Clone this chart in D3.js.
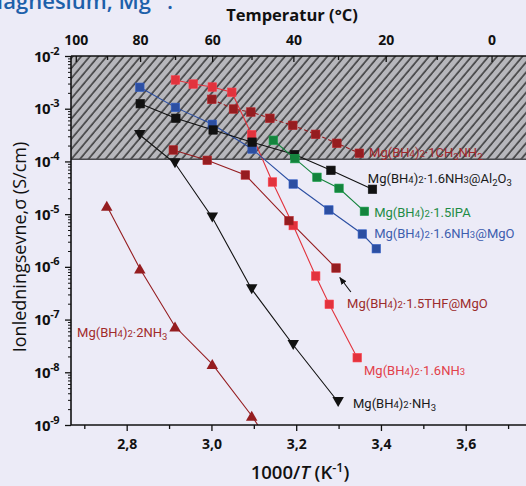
<!DOCTYPE html>
<html><head><meta charset="utf-8">
<script src="https://cdn.jsdelivr.net/npm/d3@7"></script>
<style>
html,body{margin:0;padding:0;background:#ecebf7;overflow:hidden}
svg{display:block}
</style></head>
<body>
<svg id="chart" width="526" height="486"></svg>
<script>
// ---------------- data (1000/T in K^-1, conductivity in S/cm) ----------------
const invT_CH3NH2 = [3.001, 3.052, 3.093, 3.138, 3.192, 3.246, 3.296, 3.349];
const sigma_CH3NH2 = [1.51e-3, 9.87e-4, 8.66e-4, 6.58e-4, 4.84e-4, 3.27e-4, 2.21e-4, 1.43e-4];

const invT_16NH3 = [2.915, 2.957, 3.002, 3.048, 3.095, 3.144, 3.193, 3.246, 3.278, 3.344];
const sigma_16NH3 = [3.51e-3, 2.94e-3, 2.58e-3, 2.05e-3, 3.21e-4, 4.07e-5, 6.08e-6, 6.70e-7, 1.95e-7, 1.89e-8];

const invT_THF = [2.910, 2.990, 3.080, 3.183, 3.294];
const sigma_THF = [1.65e-4, 1.05e-4, 5.53e-5, 7.50e-6, 9.50e-7];

const invT_MgO = [2.831, 2.915, 3.002, 3.096, 3.193, 3.277, 3.356, 3.389];
const sigma_MgO = [2.55e-3, 1.06e-3, 5.06e-4, 1.72e-4, 3.73e-5, 1.20e-5, 4.20e-6, 2.21e-6];

const invT_Al2O3 = [2.832, 2.916, 3.004, 3.096, 3.196, 3.282, 3.380];
const sigma_Al2O3 = [1.245e-3, 6.58e-4, 3.95e-4, 2.32e-4, 1.35e-4, 6.78e-5, 2.96e-5];

const invT_IPA = [3.146, 3.197, 3.249, 3.301, 3.361];
const sigma_IPA = [2.52e-4, 1.13e-4, 5.00e-5, 3.09e-5, 1.13e-5];

const invT_NH3 = [2.831, 2.914, 3.002, 3.095, 3.193, 3.299];
const sigma_NH3 = [3.17e-4, 9.21e-5, 8.63e-6, 3.77e-7, 3.29e-8, 2.73e-9];

// last point lies below the visible axis (only its connecting line shows)
const invT_2NH3 = [2.753, 2.831, 2.914, 3.002, 3.095, 3.190];
const sigma_2NH3 = [1.44e-5, 9.30e-7, 7.38e-8, 1.43e-8, 1.50e-9, 1.04e-10];

// series labels (markup: {x}=small, _x=subscript) and label anchors in data units
const seriesLabels = [
  "Mg(BH{4}){2}·1CH_3NH_2", "Mg(BH{4}){2}·1.6NH{3}", "Mg(BH{4}){2}·1.5THF@MgO",
  "Mg(BH{4}){2}·1.6NH{3}@MgO", "Mg(BH{4}){2}·1.6NH{3}@Al_2O_3", "Mg(BH{4}){2}·1.5IPA",
  "Mg(BH{4}){2}·NH_3", "Mg(BH{4}){2}·2NH_3"
];
const labelInvT = [3.372, 3.360, 3.320, 3.384, 3.369, 3.384, 3.334, 2.683];
const labelLogSigma = [-3.821, -7.957, -6.686, -5.358, -4.315, -4.969, -8.583, -7.236];

// axis ticks
const xTickValues = [2.8, 3.0, 3.2, 3.4, 3.6];
const xMinorTicks = [2.7, 2.9, 3.1, 3.3, 3.5, 3.7];
const tempLabels = [100, 80, 60, 40, 20, 0];
const tempMinor = [90, 70, 50, 30, 10];
const yDecades = [-2, -3, -4, -5, -6, -7, -8, -9];
const hatchThreshold = 1.1e-4;

// arrow for THF@MgO label (data units)
const arrowFrom = [3.329, -6.477];
const arrowTo = [3.303, -6.202];

// ---------------- drawing ----------------
const svg = d3.select("#chart");
const pL = 71, pR = 530, pT = 56, pB = 425;

const x = d3.scaleLinear().domain([2.6686, 3.7517]).range([pL, pR]);
const y = d3.scaleLog().domain([1e-9, 1e-2]).range([pB, pT]);

const defs = svg.append("defs");
const pat = defs.append("pattern").attr("id", "hatch").attr("patternUnits", "userSpaceOnUse")
  .attr("width", 6.5).attr("height", 6.5).attr("patternTransform", "rotate(40)");
pat.append("rect").attr("width", 6.5).attr("height", 6.5).attr("fill", "#b7b7bc");
pat.append("line").attr("x1", 1).attr("y1", 0).attr("x2", 1).attr("y2", 6.5)
  .attr("stroke", "#161616").attr("stroke-width", 1.2);
defs.append("clipPath").attr("id", "plotclip").append("rect")
  .attr("x", pL).attr("y", pT).attr("width", pR - pL).attr("height", pB - pT);
defs.append("marker").attr("id", "arrowhead").attr("viewBox", "0 0 10 10")
  .attr("refX", 9).attr("refY", 5).attr("markerWidth", 7).attr("markerHeight", 7)
  .attr("orient", "auto").append("path").attr("d", "M0,1 L10,5 L0,9 Z").attr("fill", "#111");

// title (partly cut off at the top of the picture, as in the source)
const title = svg.append("text").attr("x", -17).attr("y", 9)
  .attr("font-family", "'Open Sans', sans-serif").attr("font-weight", 600)
  .attr("font-size", 22).attr("fill", "#1d60aa");
title.append("tspan").text("Magnesium, Mg");
title.append("tspan").attr("dy", -9).attr("font-size", 14).text("2+");
title.append("tspan").attr("dy", 9).text(".");

// hatched region
svg.append("rect").attr("x", pL).attr("y", pT)
  .attr("width", pR - pL).attr("height", y(hatchThreshold) - pT)
  .attr("fill", "url(#hatch)");
svg.append("line").attr("x1", pL).attr("x2", pR)
  .attr("y1", y(hatchThreshold)).attr("y2", y(hatchThreshold))
  .attr("stroke", "#4a4a4e").attr("stroke-width", 1.5);

// series definitions
const C = { dred: "#951d20", red: "#e2333d", blue: "#2c4fa2", green: "#14843d", black: "#111111" };
const series = [
  { xs: invT_CH3NH2, ys: sigma_CH3NH2, color: C.dred, marker: "square", dash: "4,2.5", lab: 0, lc: "#a2282b" },
  { xs: invT_16NH3, ys: sigma_16NH3, color: C.red, marker: "square", lab: 1, lc: "#e2404a" },
  { xs: invT_THF, ys: sigma_THF, color: C.dred, marker: "square", lab: 2, lc: "#9c2c2c" },
  { xs: invT_MgO, ys: sigma_MgO, color: C.blue, marker: "square", lab: 3, lc: "#3d5eae" },
  { xs: invT_Al2O3, ys: sigma_Al2O3, color: C.black, marker: "square", lab: 4, lc: "#1a1a1a" },
  { xs: invT_IPA, ys: sigma_IPA, color: C.green, marker: "square", lab: 5, lc: "#1e8b45" },
  { xs: invT_NH3, ys: sigma_NH3, color: C.black, marker: "down", lab: 6, lc: "#1a1a1a" },
  { xs: invT_2NH3, ys: sigma_2NH3, color: C.dred, marker: "up", lab: 7, lc: "#a12a2b" }
];

const plot = svg.append("g").attr("clip-path", "url(#plotclip)");
const lineGen = d3.line().x(d => x(d[0])).y(d => y(d[1]));

series.forEach(s => {
  const pts = s.xs.map((v, i) => [v, s.ys[i]]);
  plot.append("path").datum(pts).attr("d", lineGen).attr("fill", "none")
    .attr("stroke", s.color).attr("stroke-width", 1.1)
    .attr("stroke-dasharray", s.dash || null);
});

const sq = 8.5, tw = 11.5, th = 10;
series.forEach(s => {
  const pts = s.xs.map((v, i) => [v, s.ys[i]]);
  const g = plot.append("g");
  if (s.marker === "square") {
    g.selectAll("rect").data(pts).join("rect")
      .attr("x", d => x(d[0]) - sq / 2).attr("y", d => y(d[1]) - sq / 2)
      .attr("width", sq).attr("height", sq).attr("fill", s.color)
      .attr("stroke", d3.color(s.color).brighter(0.6)).attr("stroke-width", 0.6);
  } else {
    const up = s.marker === "up";
    const tri = up ? `M0,${-th / 2}L${tw / 2},${th / 2}L${-tw / 2},${th / 2}Z`
                   : `M0,${th / 2}L${tw / 2},${-th / 2}L${-tw / 2},${-th / 2}Z`;
    g.selectAll("path").data(pts).join("path")
      .attr("transform", d => `translate(${x(d[0])},${y(d[1])})`)
      .attr("d", tri).attr("fill", s.color);
  }
});

// rich text helper
function rich(sel, str, smallSize, subShift) {
  const re = /\{([^}]*)\}|_(.)|\^\{([^}]*)\}|([^{_^]+)/g;
  let m, shift = 0;
  while ((m = re.exec(str))) {
    let t, size = null, target = 0;
    if (m[1] !== undefined) { t = m[1]; size = smallSize; target = 0; }
    else if (m[2] !== undefined) { t = m[2]; size = smallSize; target = subShift; }
    else if (m[3] !== undefined) { t = m[3]; size = smallSize; target = -subShift * 1.6; }
    else { t = m[4]; }
    const ts = sel.append("tspan").text(t);
    if (target - shift !== 0) ts.attr("dy", target - shift);
    if (size) ts.attr("font-size", size);
    shift = target;
  }
}

// series labels
series.forEach(s => {
  const t = svg.append("text")
    .attr("x", x(labelInvT[s.lab])).attr("y", y(Math.pow(10, labelLogSigma[s.lab])) + 4.6)
    .attr("font-family", "Roboto, sans-serif").attr("font-size", 13)
    .attr("fill", s.lc);
  rich(t, seriesLabels[s.lab], 9.5, 3.5);
});

// arrow
svg.append("line")
  .attr("x1", x(arrowFrom[0])).attr("y1", y(Math.pow(10, arrowFrom[1])))
  .attr("x2", x(arrowTo[0])).attr("y2", y(Math.pow(10, arrowTo[1])))
  .attr("stroke", "#111").attr("stroke-width", 1.1).attr("marker-end", "url(#arrowhead)");

// ---------------- axes ----------------
const axisFont = "'Open Sans', sans-serif";
function styleAxis(g) {
  g.select(".domain").remove();
  g.selectAll("line").attr("stroke", "#111").attr("stroke-width", 1.3);
  g.selectAll("text").attr("font-family", axisFont).attr("font-weight", 700)
    .attr("font-size", 14).attr("fill", "#111");
}

// bottom
const gx = svg.append("g").attr("transform", `translate(0,${pB})`)
  .call(d3.axisBottom(x).tickValues(xTickValues).tickSize(6).tickPadding(8)
    .tickFormat(d => d3.format(".1f")(d).replace(".", ",")));
styleAxis(gx);
const gxm = svg.append("g").attr("transform", `translate(0,${pB})`)
  .call(d3.axisBottom(x).tickValues(xMinorTicks).tickSize(4).tickFormat(""));
styleAxis(gxm);

// top (temperature in °C)
const tPos = T => 1000 / (T + 273.15);
const gt = svg.append("g").attr("transform", `translate(0,${pT})`)
  .call(d3.axisTop(x).tickValues(tempLabels.map(tPos)).tickSize(-6).tickPadding(11)
    .tickFormat((d, i) => String(tempLabels[i])));
styleAxis(gt);
const gtm = svg.append("g").attr("transform", `translate(0,${pT})`)
  .call(d3.axisTop(x).tickValues(tempMinor.map(tPos)).tickSize(-4).tickFormat(""));
styleAxis(gtm);

// left (log)
const minorY = [];
yDecades.forEach(e => { if (e > -9) for (let k = 2; k <= 9; k++) minorY.push(k * Math.pow(10, e - 1)); });
const gy = svg.append("g").attr("transform", `translate(${pL},0)`)
  .call(d3.axisLeft(y).tickValues(yDecades.map(e => Math.pow(10, e))).tickSize(6).tickFormat(""));
styleAxis(gy);
const gym = svg.append("g").attr("transform", `translate(${pL},0)`)
  .call(d3.axisLeft(y).tickValues(minorY).tickSize(3).tickFormat(""));
styleAxis(gym);
gym.selectAll("line").attr("stroke-width", 1);

yDecades.forEach(e => {
  const t = svg.append("text").attr("x", 59).attr("y", y(Math.pow(10, e)) + 5.5)
    .attr("text-anchor", "end").attr("font-family", axisFont).attr("font-weight", 700)
    .attr("font-size", 15).attr("fill", "#111").attr("letter-spacing", -0.5);
  t.append("tspan").text("10");
  t.append("tspan").attr("dy", -7).attr("font-size", 11).text("-" + Math.abs(e));
});

// axis lines
svg.append("line").attr("x1", pL).attr("x2", pR).attr("y1", pB).attr("y2", pB)
  .attr("stroke", "#111").attr("stroke-width", 1.6);
svg.append("line").attr("x1", pL).attr("x2", pR).attr("y1", pT).attr("y2", pT)
  .attr("stroke", "#111").attr("stroke-width", 1.6);
svg.append("line").attr("x1", pL).attr("x2", pL).attr("y1", pT).attr("y2", pB)
  .attr("stroke", "#111").attr("stroke-width", 1.6);

// axis titles
svg.append("text").attr("x", 292).attr("y", 21).attr("text-anchor", "middle")
  .attr("font-family", axisFont).attr("font-weight", 700).attr("font-size", 16.5)
  .attr("fill", "#111").text("Temperatur (°C)");

const xt = svg.append("text").attr("x", 300).attr("y", 479).attr("text-anchor", "middle")
  .attr("font-family", axisFont).attr("font-weight", 600).attr("font-size", 18.5).attr("fill", "#111");
xt.append("tspan").text("1000/");
xt.append("tspan").attr("font-style", "italic").text("T");
xt.append("tspan").text(" (K");
xt.append("tspan").attr("dy", -7).attr("font-size", 12.5).text("-1");
xt.append("tspan").attr("dy", 7).text(")");

svg.append("text").attr("transform", "translate(26,247) rotate(-90)").attr("text-anchor", "middle")
  .attr("font-family", axisFont).attr("font-weight", 500).attr("font-size", 18).attr("fill", "#111")
  .text("Ionledningsevne,σ  (S/cm)");
</script>
</body></html>
